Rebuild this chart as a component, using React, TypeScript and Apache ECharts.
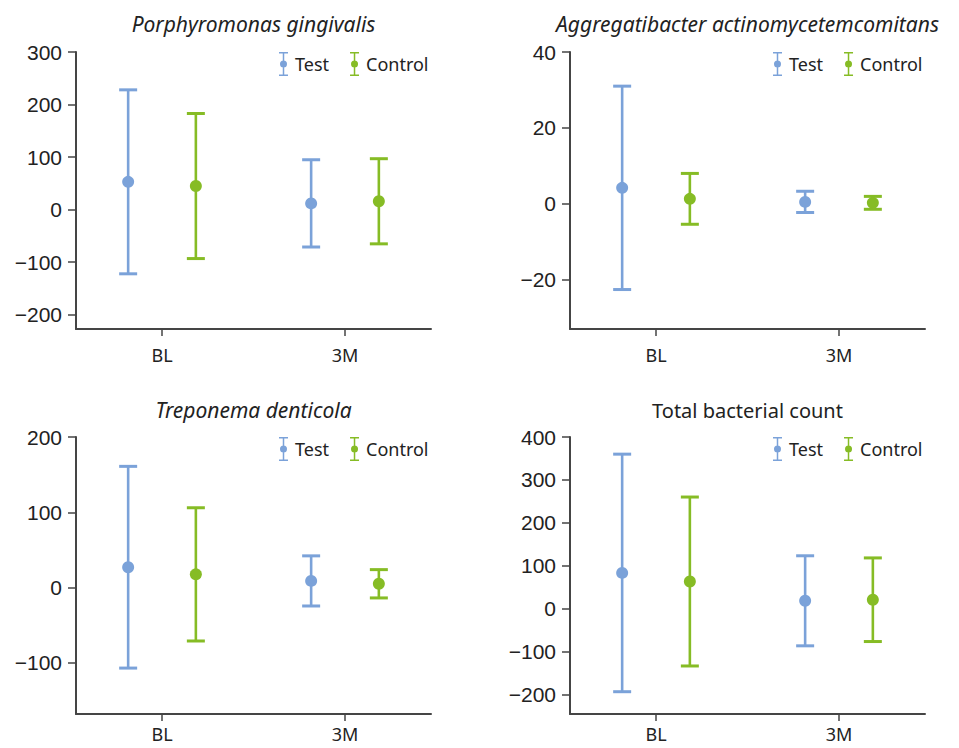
import React, { useEffect, useRef } from 'react';
import * as echarts from 'echarts';

const categories = ['BL', '3M'];
const groupNames = ['Test', 'Control'];
const panelTitles = [
  'Porphyromonas gingivalis',
  'Aggregatibacter actinomycetemcomitans',
  'Treponema denticola',
  'Total bacterial count',
];
const titleItalic = [true, true, true, false];

// mean and SD per category (BL, 3M)
const pgTestMean = [53, 12];
const pgTestSD = [175, 83];
const pgControlMean = [45, 16];
const pgControlSD = [138, 81];

const aaTestMean = [4.2, 0.5];
const aaTestSD = [26.8, 2.8];
const aaControlMean = [1.3, 0.25];
const aaControlSD = [6.7, 1.7];

const tdTestMean = [27, 8.8];
const tdTestSD = [134, 33.3];
const tdControlMean = [17.5, 5];
const tdControlSD = [88.5, 18.8];

const tbTestMean = [83, 18];
const tbTestSD = [277, 105];
const tbControlMean = [63, 20.5];
const tbControlSD = [197, 97.5];

const pgTicks = [-200, -100, 0, 100, 200, 300];
const aaTicks = [-20, 0, 20, 40];
const tdTicks = [-100, 0, 100, 200];
const tbTicks = [-200, -100, 0, 100, 200, 300, 400];
const yMins = [-227, -33, -168, -246];

const BLUE = '#7BA2D9';
const GREEN = '#86BC25';
const AXIS = '#454545';

const panels = [
  { test: [pgTestMean, pgTestSD], control: [pgControlMean, pgControlSD], ticks: pgTicks },
  { test: [aaTestMean, aaTestSD], control: [aaControlMean, aaControlSD], ticks: aaTicks },
  { test: [tdTestMean, tdTestSD], control: [tdControlMean, tdControlSD], ticks: tdTicks },
  { test: [tbTestMean, tbTestSD], control: [tbControlMean, tbControlSD], ticks: tbTicks },
];

const gridLefts = [76, 570, 76, 570];
const gridTops = [52, 52, 437, 437];
const GRID_W = 355;
const GRID_H = 277;
const titleYs = [24, 24, 410, 410];
const xLabelMargins = [17, 17, 11, 11];

const legendIcon =
  'path://M0,0H9V1.5H0Z M3.75,0H5.25V24H3.75Z M0,22.5H9V24H0Z M1,12A3.5,3.5 0 1,1 8,12A3.5,3.5 0 1,1 1,12Z';

const fmtY = (v: number) => (v < 0 ? '\u2212' + Math.abs(v) : String(v));

function buildOption() {
  const grid: any[] = [];
  const xAxis: any[] = [];
  const yAxis: any[] = [];
  const series: any[] = [];
  const legend: any[] = [];
  const graphic: any[] = [];

  panels.forEach((p, i) => {
    grid.push({ left: gridLefts[i], top: gridTops[i], width: GRID_W, height: GRID_H, containLabel: false });
    xAxis.push({
      type: 'value',
      gridIndex: i,
      min: 0.53,
      max: 2.47,
      splitLine: { show: false },
      axisLine: { show: true, onZero: false, lineStyle: { color: AXIS, width: 2 } },
      axisTick: { show: true, length: 7, lineStyle: { color: AXIS, width: 1.5 }, customValues: [1, 2] },
      axisLabel: {
        customValues: [1, 2],
        formatter: (v: number) => categories[Math.round(v) - 1] ?? '',
        fontFamily: 'Noto Sans',
        fontSize: 18,
        lineHeight: 18,
        color: '#222',
        margin: xLabelMargins[i],
      },
    });
    const ticks = p.ticks;
    yAxis.push({
      type: 'value',
      gridIndex: i,
      min: yMins[i],
      max: ticks[ticks.length - 1],
      splitLine: { show: false },
      axisLine: { show: true, onZero: false, lineStyle: { color: AXIS, width: 2 } },
      axisTick: { show: true, length: 8, lineStyle: { color: AXIS, width: 1.5 }, customValues: ticks },
      axisLabel: {
        customValues: ticks,
        formatter: fmtY,
        fontFamily: 'Liberation Sans',
        fontSize: 21,
        color: '#222',
        margin: 14,
      },
    });

    const groups = [
      { name: groupNames[0], data: p.test, color: BLUE, offset: -0.185 },
      { name: groupNames[1], data: p.control, color: GREEN, offset: 0.185 },
    ];
    groups.forEach((g) => {
      const [mean, sd] = g.data;
      const errData = categories.map((_, k) => [k + 1 + g.offset, mean[k] - sd[k], mean[k] + sd[k]]);
      const ptData = categories.map((_, k) => [k + 1 + g.offset, mean[k]]);
      const color = g.color;
      series.push({
        type: 'custom',
        name: g.name,
        xAxisIndex: i,
        yAxisIndex: i,
        itemStyle: { color },
        encode: { x: 0, y: [1, 2] },
        data: errData,
        z: 2,
        renderItem: (params: any, api: any) => {
          const x = api.value(0);
          const lo = api.coord([x, api.value(1)]);
          const hi = api.coord([x, api.value(2)]);
          const hw = 9;
          return {
            type: 'group',
            children: [
              { type: 'line', shape: { x1: lo[0], y1: lo[1], x2: hi[0], y2: hi[1] }, style: { stroke: color, lineWidth: 2.6 } },
              { type: 'line', shape: { x1: hi[0] - hw, y1: hi[1], x2: hi[0] + hw, y2: hi[1] }, style: { stroke: color, lineWidth: 3 } },
              { type: 'line', shape: { x1: lo[0] - hw, y1: lo[1], x2: lo[0] + hw, y2: lo[1] }, style: { stroke: color, lineWidth: 3 } },
            ],
          };
        },
      });
      series.push({
        type: 'scatter',
        name: g.name,
        xAxisIndex: i,
        yAxisIndex: i,
        symbol: 'circle',
        symbolSize: 12,
        itemStyle: { color, opacity: 1 },
        data: ptData,
        z: 3,
      });
    });

    legend.push({
      left: gridLefts[i] + 203,
      top: gridTops[i],
      orient: 'horizontal',
      itemWidth: 9,
      itemHeight: 24,
      itemGap: 21,
      padding: 0,
      selectedMode: false,
      textStyle: { fontFamily: 'Noto Sans', fontSize: 18, color: '#222', padding: [0, 0, 0, 2] },
      data: [
        { name: groupNames[0], icon: legendIcon, itemStyle: { color: BLUE } },
        { name: groupNames[1], icon: legendIcon, itemStyle: { color: GREEN } },
      ],
    });

    graphic.push({
      type: 'text',
      x: gridLefts[i] + GRID_W / 2,
      y: titleYs[i],
      style: {
        text: panelTitles[i],
        align: 'center',
        verticalAlign: 'middle',
        fontFamily: 'Noto Sans',
        fontSize: titleItalic[i] ? 21 : 20,
        fontStyle: titleItalic[i] ? 'italic' : 'normal',
        fill: '#222',
      },
    });
  });

  return {
    animation: false,
    backgroundColor: '#ffffff',
    grid,
    xAxis,
    yAxis,
    series,
    legend,
    graphic,
  };
}

export default function App() {
  const ref = useRef<HTMLDivElement>(null);
  useEffect(() => {
    if (!ref.current) return;
    const chart = echarts.init(ref.current, null, { renderer: 'svg' });
    chart.setOption(buildOption() as any);
    return () => chart.dispose();
  }, []);
  return (
    <div
      ref={ref}
      style={{ position: 'absolute', left: 0, top: 0, width: 959, height: 748 }}
    />
  );
}
